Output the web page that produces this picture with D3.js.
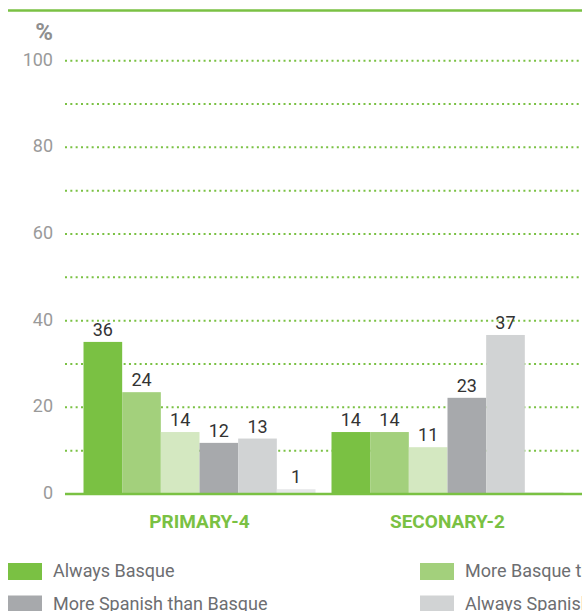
<!DOCTYPE html>
<html>
<head>
<meta charset="utf-8">
<script src="https://cdn.jsdelivr.net/npm/d3@7"></script>
<style>
  html, body { margin: 0; padding: 0; background: #fff; overflow: hidden; }
  svg { display: block; overflow: hidden; }
  text { font-family: Roboto, "Open Sans", sans-serif; }
</style>
</head>
<body>
<div id="chart"></div>
<script>
// ---- data ----
const categories = ["PRIMARY-4", "SECONARY-2"];
const seriesNames = ["Always Basque", "More Basque than Spanish", "Both equally",
                     "More Spanish than Basque", "Always Spanish", "Other languages"];
const primaryValues = [35.1, 23.5, 14.3, 11.8, 12.8, 1.1];
const secondaryValues = [14.3, 14.3, 10.8, 22.2, 36.7, 0.4];
const primaryLabels = ["36", "24", "14", "12", "13", "1"];
const secondaryLabels = ["14", "14", "11", "23", "37", ""];
const yTickLabels = [0, 20, 40, 60, 80, 100];
const yGridValues = [10, 20, 30, 40, 50, 60, 70, 80, 90, 100];

// ---- styles ----
const seriesColors = ["#7ac143", "#a3d07c", "#d4e8c1", "#a7a9ac", "#d1d3d4", "#e6e7e8"];
const green = "#7ac143";

const W = 582, H = 611;
const svg = d3.select("#chart").append("svg").attr("width", W).attr("height", H);

const y = d3.scaleLinear().domain([0, 100]).range([494, 60.7]);
const x0 = d3.scaleBand().domain(categories).range([75.5, 571.5])
  .paddingInner(0.0645).paddingOuter(0.0323);
const x1 = d3.scaleBand().domain(d3.range(seriesNames.length)).range([0, x0.bandwidth()]).padding(0);

// top rule
svg.append("line").attr("x1", 8).attr("x2", W).attr("y1", 10.5).attr("y2", 10.5)
  .attr("stroke", green).attr("stroke-width", 2.5);

// "%" label
svg.append("text").attr("x", 53).attr("y", 39.5).attr("text-anchor", "end")
  .attr("font-size", 24).attr("font-weight", "bold").attr("fill", "#8f8f8f").text("%");

// gridlines
svg.append("g").selectAll("line").data(yGridValues).join("line")
  .attr("x1", 65).attr("x2", W)
  .attr("y1", d => y(d)).attr("y2", d => y(d))
  .attr("stroke", green).attr("stroke-width", 2)
  .attr("stroke-dasharray", "2 3.33");

// y tick labels via axis
const yAxis = d3.axisLeft(y).tickValues(yTickLabels).tickSize(0).tickPadding(0);
const gy = svg.append("g").attr("transform", "translate(53,0)").call(yAxis);
gy.select(".domain").remove();
gy.selectAll("text").attr("font-size", 18).attr("fill", "#9a9a9a")
  .attr("font-family", "Roboto, sans-serif")
  .attr("dy", null).attr("y", 4.4);

// bars
const groups = [
  { cat: categories[0], values: primaryValues, labels: primaryLabels },
  { cat: categories[1], values: secondaryValues, labels: secondaryLabels }
];
const g = svg.append("g").selectAll("g").data(groups).join("g")
  .attr("transform", d => `translate(${x0(d.cat)},0)`);

g.selectAll("rect").data(d => d.values.map((v, i) => ({ v, i }))).join("rect")
  .attr("x", d => x1(d.i))
  .attr("width", x1.bandwidth())
  .attr("y", d => y(d.v))
  .attr("height", d => y(0) - y(d.v) - 1)
  .attr("fill", d => seriesColors[d.i]);

g.selectAll("text.val").data(d => d.values.map((v, i) => ({ v, i, label: d.labels[i] }))).join("text")
  .attr("class", "val")
  .attr("x", d => x1(d.i) + x1.bandwidth() / 2)
  .attr("y", d => y(d.v) - 6)
  .attr("text-anchor", "middle")
  .attr("font-size", 18).attr("fill", "#333")
  .text(d => d.label);

// baseline
svg.append("line").attr("x1", 65).attr("x2", W).attr("y1", y(0)).attr("y2", y(0))
  .attr("stroke", green).attr("stroke-width", 2.5);

// category labels
svg.append("g").selectAll("text").data(categories).join("text")
  .attr("x", d => x0(d) + x0.bandwidth() / 2)
  .attr("y", 528)
  .attr("text-anchor", "middle")
  .attr("font-size", 19).attr("font-weight", "bold").attr("fill", green)
  .text(d => d);

// legend (3 columns, row-major)
const legend = svg.append("g").selectAll("g").data(seriesNames).join("g")
  .attr("transform", (d, i) => `translate(${8 + (i % 3) * 412},${563 + Math.floor(i / 3) * 32.5})`);
legend.append("rect").attr("width", 34).attr("height", 17)
  .attr("fill", (d, i) => seriesColors[i]);
legend.append("text").attr("x", 45).attr("y", 14.3)
  .attr("font-size", 18).attr("fill", "#6d6e71").text(d => d);
</script>
</body>
</html>
